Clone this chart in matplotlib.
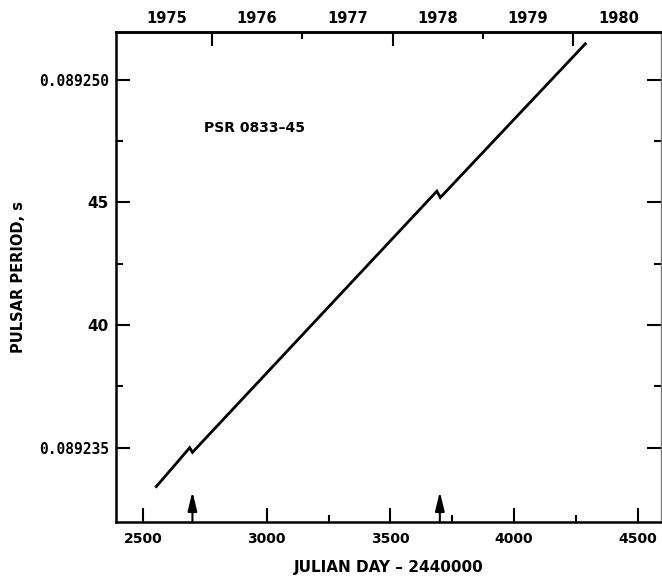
import matplotlib
matplotlib.use("Agg")
import matplotlib.pyplot as plt
from matplotlib.ticker import FixedLocator, NullFormatter
import matplotlib.transforms as mtransforms

# ---- data ----
julian_day = [2550, 2689, 2700, 3688, 3702, 4292]          # JD - 2440000
period_s = [0.08923337, 0.08923500, 0.08923481,
            0.08924546, 0.08924520, 0.08925151]              # seconds
glitch_days = [2700, 3700]                                   # arrows

x_major = [2500, 3000, 3500, 4000, 4500]
x_minor = [3250, 3750, 4250]
y_major = [0.089235, 0.089240, 0.089245, 0.089250]
y_major_labels = ["0.089235", "40", "45", "0.089250"]
y_minor = [0.0892375, 0.0892425, 0.0892475]

year_bounds_long = [2778.5, 3509.5, 4239.5]                  # Jan 1 1976, 1978, 1980
year_bounds_short = [3144.5, 3874.5]                         # Jan 1 1977, 1979
year_mid = [2595, 2961, 3326, 3691, 4056, 4422]
year_labels = ["1975", "1976", "1977", "1978", "1979", "1980"]

# ---- figure ----
fig = plt.figure(figsize=(6.62, 5.80), dpi=100)
ax = fig.add_axes([116/662, 1 - 522/580, (661 - 116)/662, (522 - 32)/580])

ax.plot(julian_day, period_s, color="black", lw=2.0, solid_capstyle="butt",
        solid_joinstyle="miter")

ax.set_xlim(2391, 4594)
ax.set_ylim(0.08923197, 0.08925195)

font_main = dict(family="DejaVu Sans", weight="bold")

# bottom ticks
ax.xaxis.set_major_locator(FixedLocator(x_major))
ax.xaxis.set_minor_locator(FixedLocator(x_minor))
ax.set_xticklabels([str(v) for v in x_major], fontsize=10, **font_main)
ax.tick_params(axis="x", which="major", direction="in", length=10, width=1.5,
               pad=7, top=False)
ax.tick_params(axis="x", which="minor", direction="in", length=5, width=1.5,
               top=False)

# left / right ticks
ax.yaxis.set_major_locator(FixedLocator(y_major))
ax.yaxis.set_minor_locator(FixedLocator(y_minor))
ax.set_yticklabels(y_major_labels)
for lbl, txt in zip(ax.get_yticklabels(), y_major_labels):
    if txt.startswith("0."):
        lbl.set_family("DejaVu Sans Mono")
        lbl.set_fontsize(10.5)
        lbl.set_weight("bold")
    else:
        lbl.set_family("DejaVu Sans")
        lbl.set_fontsize(11)
        lbl.set_weight("bold")
ax.tick_params(axis="y", which="major", direction="in", length=10, width=1.5,
               pad=5, right=True)
ax.tick_params(axis="y", which="minor", direction="in", length=5, width=1.5,
               right=True)

# top year axis
top = ax.secondary_xaxis("top")
top.xaxis.set_major_locator(FixedLocator(year_bounds_long))
top.xaxis.set_minor_locator(FixedLocator(year_bounds_short))
top.xaxis.set_major_formatter(NullFormatter())
top.tick_params(axis="x", which="major", direction="in", length=10, width=1.5)
top.tick_params(axis="x", which="minor", direction="in", length=5, width=1.5)
top.spines["top"].set_linewidth(1.8)
trans = mtransforms.blended_transform_factory(ax.transData, ax.transAxes)
for xm, lab in zip(year_mid, year_labels):
    ax.text(xm, 1.012, lab, transform=trans, ha="center", va="bottom",
            fontsize=10.5, **font_main)

# spines
for s in ["left", "bottom", "top"]:
    ax.spines[s].set_linewidth(1.8)
ax.spines["right"].set_linewidth(1.0)
ax.spines["right"].set_color("#777777")

# glitch arrows
for g in glitch_days:
    ax.annotate("", xy=(g, 0.062), xytext=(g, 0.0), xycoords=trans,
                textcoords=trans,
                arrowprops=dict(arrowstyle="-|>,head_length=1.15,head_width=0.28",
                                color="black", lw=1.5, shrinkA=0, shrinkB=0))

# labels
ax.set_xlabel("JULIAN DAY \u2013 2440000", fontsize=11, labelpad=10, **font_main)
ax.set_ylabel("PULSAR PERIOD, s", fontsize=10.5, **font_main)
ax.yaxis.set_label_coords(-0.165, 0.5)

ax.text(2745, 0.08924803, "PSR 0833\u201345", fontsize=10, va="center",
        ha="left", **font_main)

fig.savefig("out.png", dpi=100)
